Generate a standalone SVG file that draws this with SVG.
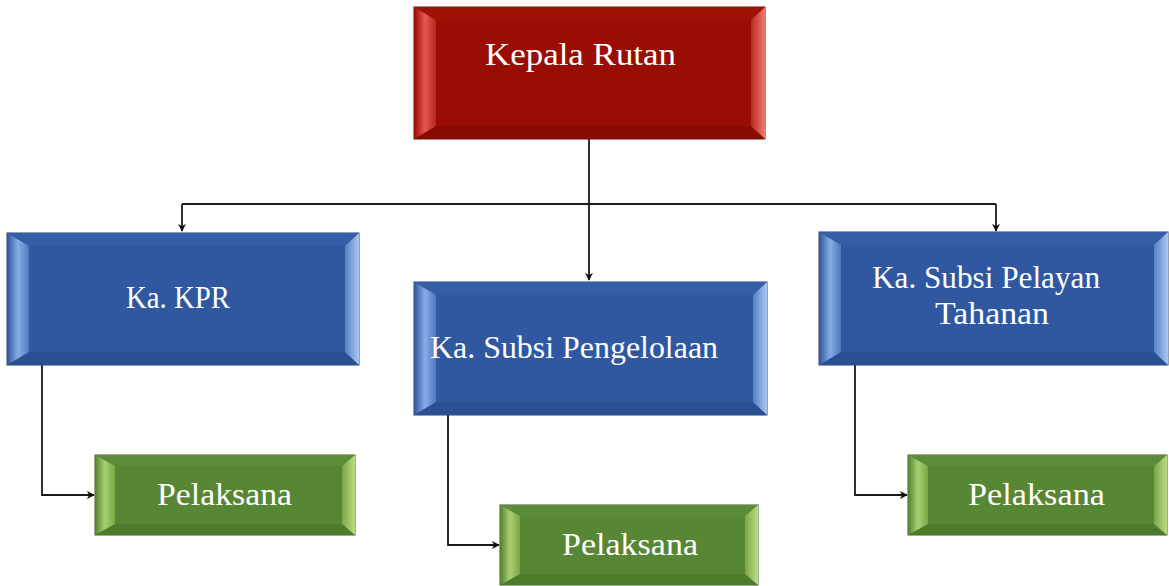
<svg xmlns="http://www.w3.org/2000/svg" width="1169" height="586" viewBox="0 0 1169 586">
<defs>
<linearGradient id="rL" x1="0" y1="0" x2="1" y2="0"><stop offset="0" stop-color="#960c00"/><stop offset="0.5" stop-color="#e55a4e"/><stop offset="1" stop-color="#b82418"/></linearGradient>
<linearGradient id="rR" x1="0" y1="0" x2="1" y2="0"><stop offset="0" stop-color="#b82a1e"/><stop offset="1" stop-color="#ee7b70"/></linearGradient>
<linearGradient id="bL" x1="0" y1="0" x2="1" y2="0"><stop offset="0" stop-color="#2e5598"/><stop offset="0.5" stop-color="#86ace6"/><stop offset="1" stop-color="#4f7abe"/></linearGradient>
<linearGradient id="bR" x1="0" y1="0" x2="1" y2="0"><stop offset="0" stop-color="#5580c4"/><stop offset="1" stop-color="#a9c7f0"/></linearGradient>
<linearGradient id="gL" x1="0" y1="0" x2="1" y2="0"><stop offset="0" stop-color="#53802f"/><stop offset="0.5" stop-color="#a9d072"/><stop offset="1" stop-color="#7aa646"/></linearGradient>
<linearGradient id="gR" x1="0" y1="0" x2="1" y2="0"><stop offset="0" stop-color="#7aa646"/><stop offset="1" stop-color="#bcdd86"/></linearGradient>
<marker id="arr" viewBox="0 0 10 10" refX="9" refY="5" markerWidth="8" markerHeight="8" markerUnits="userSpaceOnUse" orient="auto"><path d="M0,0 L10,5 L0,10 L3,5 Z" fill="#111"/></marker>
<style>
.txt{font-family:"Liberation Serif","Times New Roman",serif;font-size:32px;fill:#ffffff}
.conn{fill:none;stroke:#1a1a1a;stroke-width:1.8}
.rb{fill:#990d02;stroke:#5a1a14;stroke-width:1}
.rt{fill:#a01206}
.rbt{fill:#880a00}
.rl{fill:url(#rL)}
.rr{fill:url(#rR)}
.bb{fill:#3058a0;stroke:#2a3f66;stroke-width:1}
.bt{fill:#355ea6}
.bbt{fill:#2a4f92}
.bl{fill:url(#bL)}
.br{fill:url(#bR)}
.gb{fill:#578634;stroke:#3d5a28;stroke-width:1}
.gt{fill:#5c8c37}
.gbt{fill:#4e7a2c}
.gl{fill:url(#gL)}
.gr{fill:url(#gR)}
</style>
</defs>

<g id="connectors">
<path class="conn" d="M589,139 V280" marker-end="url(#arr)"/>
<path class="conn" d="M182,204 H996"/>
<path class="conn" d="M182,204 V231" marker-end="url(#arr)"/>
<path class="conn" d="M996,204 V231" marker-end="url(#arr)"/>
<path class="conn" d="M42,365 V495 H94" marker-end="url(#arr)"/>
<path class="conn" d="M448,415 V545 H499" marker-end="url(#arr)"/>
<path class="conn" d="M855,365 V495 H907" marker-end="url(#arr)"/>
</g>

<g id="kepala-rutan">
<rect class="rb" x="414" y="7" width="351" height="132"/>
<polygon class="rt" points="414,7 765,7 751,20 436,20"/>
<polygon class="rbt" points="414,139 765,139 751,126 436,126"/>
<polygon class="rl" points="414,7 436,20 436,126 414,139"/>
<polygon class="rr" points="765,7 751,20 751,126 765,139"/>
<text class="txt" x="485" y="65" textLength="191" lengthAdjust="spacingAndGlyphs">Kepala Rutan</text>
</g>

<g id="ka-kpr">
<rect class="bb" x="7" y="233" width="352" height="132"/>
<polygon class="bt" points="7,233 359,233 345,246 29,246"/>
<polygon class="bbt" points="7,365 359,365 345,352 29,352"/>
<polygon class="bl" points="7,233 29,246 29,352 7,365"/>
<polygon class="br" points="359,233 345,246 345,352 359,365"/>
<text class="txt" x="126" y="308" textLength="104" lengthAdjust="spacingAndGlyphs">Ka. KPR</text>
</g>

<g id="ka-subsi-pengelolaan">
<rect class="bb" x="414" y="282" width="353" height="133"/>
<polygon class="bt" points="414,282 767,282 753,295 436,295"/>
<polygon class="bbt" points="414,415 767,415 753,402 436,402"/>
<polygon class="bl" points="414,282 436,295 436,402 414,415"/>
<polygon class="br" points="767,282 753,295 753,402 767,415"/>
<text class="txt" x="430" y="358" textLength="288" lengthAdjust="spacingAndGlyphs">Ka. Subsi Pengelolaan</text>
</g>

<g id="ka-subsi-pelayan-tahanan">
<rect class="bb" x="819" y="232" width="349" height="133"/>
<polygon class="bt" points="819,232 1168,232 1154,245 841,245"/>
<polygon class="bbt" points="819,365 1168,365 1154,352 841,352"/>
<polygon class="bl" points="819,232 841,245 841,352 819,365"/>
<polygon class="br" points="1168,232 1154,245 1154,352 1168,365"/>
<text class="txt" x="872" y="288" textLength="228" lengthAdjust="spacingAndGlyphs">Ka. Subsi Pelayan</text>
<text class="txt" x="935" y="324" textLength="114" lengthAdjust="spacingAndGlyphs">Tahanan</text>
</g>

<g id="pelaksana-1">
<rect class="gb" x="95" y="455" width="260" height="80"/>
<polygon class="gt" points="95,455 355,455 342,466 115,466"/>
<polygon class="gbt" points="95,535 355,535 342,524 115,524"/>
<polygon class="gl" points="95,455 115,466 115,524 95,535"/>
<polygon class="gr" points="355,455 342,466 342,524 355,535"/>
<text class="txt" x="157" y="505" textLength="135" lengthAdjust="spacingAndGlyphs">Pelaksana</text>
</g>

<g id="pelaksana-2">
<rect class="gb" x="500" y="505" width="258" height="80"/>
<polygon class="gt" points="500,505 758,505 745,516 520,516"/>
<polygon class="gbt" points="500,585 758,585 745,574 520,574"/>
<polygon class="gl" points="500,505 520,516 520,574 500,585"/>
<polygon class="gr" points="758,505 745,516 745,574 758,585"/>
<text class="txt" x="562" y="555" textLength="136" lengthAdjust="spacingAndGlyphs">Pelaksana</text>
</g>

<g id="pelaksana-3">
<rect class="gb" x="908" y="455" width="259" height="80"/>
<polygon class="gt" points="908,455 1167,455 1154,466 928,466"/>
<polygon class="gbt" points="908,535 1167,535 1154,524 928,524"/>
<polygon class="gl" points="908,455 928,466 928,524 908,535"/>
<polygon class="gr" points="1167,455 1154,466 1154,524 1167,535"/>
<text class="txt" x="968" y="505" textLength="137" lengthAdjust="spacingAndGlyphs">Pelaksana</text>
</g>
</svg>
